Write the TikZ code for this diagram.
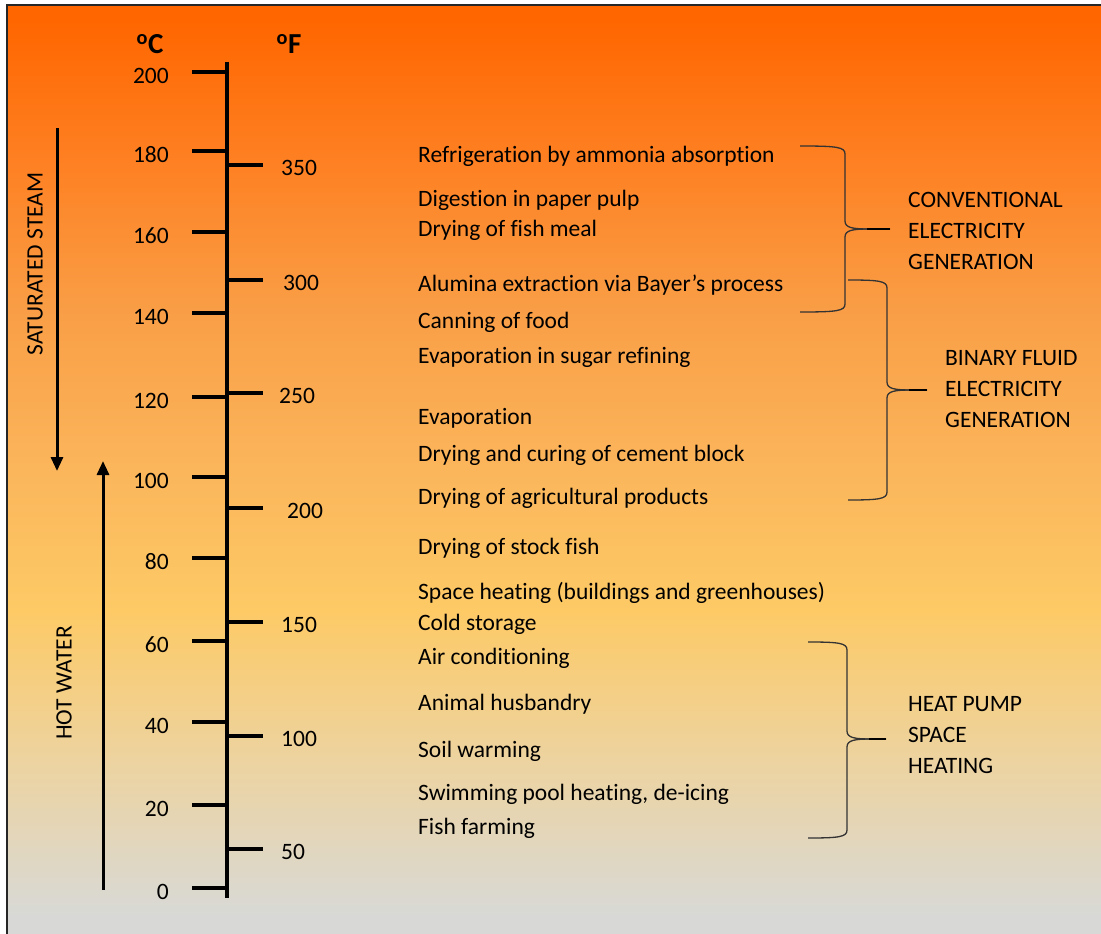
\documentclass[tikz,border=0pt]{standalone}
\usepackage{fontspec}
\setmainfont[Ligatures=NoCommon]{Carlito}
\usetikzlibrary{arrows.meta}
\definecolor{c0}{HTML}{FF6600}
\definecolor{c1}{HTML}{FE8022}
\definecolor{c2}{HTML}{F99E46}
\definecolor{c3}{HTML}{FBB45A}
\definecolor{c4}{HTML}{FDCA66}
\definecolor{c5}{HTML}{EDD3A0}
\definecolor{c6}{HTML}{D8D9D6}
\pgfdeclareverticalshading{bgshade}{100bp}{color(0bp)=(c6); color(26.3bp)=(c6); color(34.6bp)=(c5); color(42.6bp)=(c4); color(50.7bp)=(c3); color(58.7bp)=(c2); color(66.7bp)=(c1); color(74.2bp)=(c0); color(100bp)=(c0)}
\tikzset{
  txt/.style={font=\fontsize{23.5}{28}\selectfont, inner sep=0pt},
  item/.style={txt, anchor=west},
  clab/.style={txt, anchor=east},
  flab/.style={txt, anchor=west},
  head/.style={font=\fontsize{29}{34}\selectfont\bfseries, inner sep=0pt},
  grp/.style={txt, anchor=west, align=left, font=\fontsize{23.5}{31}\selectfont},
  axisline/.style={line width=4.5pt},
  tick/.style={line width=4.5pt},
  brace/.style={line width=1.3pt, draw=black!80},
  flow/.style={line width=3pt, -{Triangle[length=14pt,width=12pt]}},
}
\begin{document}
\begin{tikzpicture}[x=1pt,y=-1pt]
\useasboundingbox (0,0) rectangle (1101,934);
\fill[white] (0,0) rectangle (1101,934);
\begin{scope}
\clip (0,0) rectangle (1101,934);
\shade[shading=bgshade] (7,5) rectangle (1110,940);
\draw[line width=2pt, black!85] (7,940) -- (7,5) -- (1110,5);
\end{scope}

% headers
\node[head] (hc) at (150,44) {\textsuperscript{o}C};
\node[head] (hf) at (289,44) {\textsuperscript{o}F};

% axis
\coordinate (atop) at (227,62);
\coordinate (abot) at (227,898);
\draw[axisline] (atop) -- (abot);

% Celsius ticks
\foreach \c/\y in {200/72,180/151,160/232,140/313,120/397,100/477,80/558,60/641,40/722,20/805,0/888}{
  \coordinate (ct\c) at (227,\y);
  \coordinate (cs\c) at (192,\y);
  \draw[tick] (cs\c) -- (ct\c);
  \node[clab] (cl\c) at (169,\y+4) {\c};
}
% Fahrenheit ticks
\foreach \f/\y/\dx in {350/165/0,300/280/2,250/393/-2,200/508/6,150/622/0,100/736/0,50/849/0}{
  \coordinate (ft\f) at (227,\y);
  \coordinate (fe\f) at (263,\y);
  \draw[tick] (ft\f) -- (fe\f);
  \node[flab] (fl\f) at (281+\dx,\y+3) {\f};
}

% flow arrows
\coordinate (ss1) at (57,128);
\coordinate (ss2) at (57,471);
\draw[flow] (ss1) -- (ss2);
\node[txt, rotate=90] (sslab) at (35,264) {SATURATED STEAM};
\coordinate (hw1) at (103,890);
\coordinate (hw2) at (103,461);
\draw[flow] (hw1) -- (hw2);
\node[txt, rotate=90] (hwlab) at (64,683) {HOT WATER};

% items
\node[item] (i1) at (418,156) {Refrigeration by ammonia absorption};
\node[item] (i2) at (418,200) {Digestion in paper pulp};
\node[item] (i3) at (418,230) {Drying of fish meal};
\node[item] (i4) at (418,285) {Alumina extraction via Bayer’s process};
\node[item] (i5) at (418,322) {Canning of food};
\node[item] (i6) at (418,357) {Evaporation in sugar refining};
\node[item] (i7) at (418,418) {Evaporation};
\node[item] (i8) at (418,455) {Drying and curing of cement block};
\node[item] (i9) at (418,498) {Drying of agricultural products};
\node[item] (i10) at (418,548) {Drying of stock fish};
\node[item] (i11) at (418,593) {Space heating (buildings and greenhouses)};
\node[item] (i12) at (418,624) {Cold storage};
\node[item] (i13) at (418,658) {Air conditioning};
\node[item] (i14) at (418,704) {Animal husbandry};
\node[item] (i15) at (418,751) {Soil warming};
\node[item] (i16) at (418,794) {Swimming pool heating, de-icing};
\node[item] (i17) at (418,828) {Fish farming};

% braces: start x, vertical x, tip x, top y, mid y, bottom y
\foreach \n/\xs/\xv/\xt/\yt/\ym/\yb in {a/800/845/890/146/229/312, b/848/887/927/280/390/500, c/808/847/886/642/739/838}{
  \coordinate (\n top) at (\xs,\yt);
  \coordinate (\n bot) at (\xs,\yb);
  \coordinate (\n tip) at (\xt,\ym);
  \draw[brace] (\n top) .. controls (\xv-8,\yt) and (\xv,\yt+1) .. (\xv,\yt+8)
     -- (\xv,\ym-8) .. controls (\xv,\ym-1) and (\xv+8,\ym) .. (\xv+25,\ym) -- (\n tip);
  \draw[brace] (\xv+25,\ym) .. controls (\xv+8,\ym) and (\xv,\ym+1) .. (\xv,\ym+8)
     -- (\xv,\yb-8) .. controls (\xv,\yb-1) and (\xv-8,\yb) .. (\n bot);
  \draw[line width=2pt] (\xv+22,\ym) -- (\n tip);
}

\node[grp] (g1) at (908,231) {CONVENTIONAL\\ELECTRICITY\\GENERATION};
\node[grp] (g2) at (945,389) {BINARY FLUID\\ELECTRICITY\\GENERATION};
\node[grp] (g3) at (908,735) {HEAT PUMP\\SPACE\\HEATING};
\end{tikzpicture}
\end{document}
